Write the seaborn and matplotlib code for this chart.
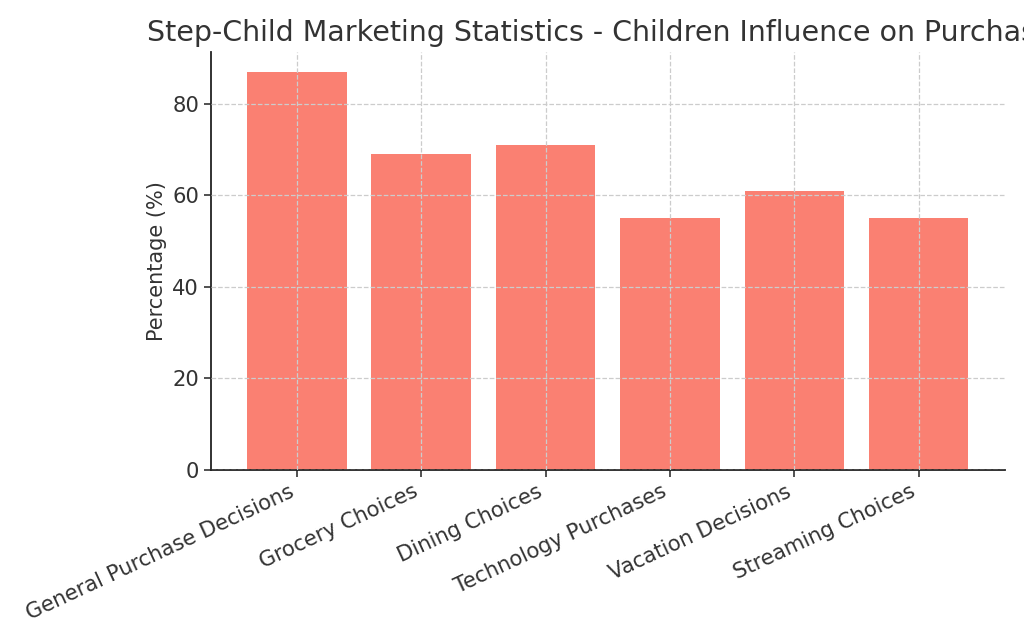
import matplotlib
matplotlib.use("Agg")
import matplotlib.pyplot as plt
import seaborn as sns
import pandas as pd

categories = ["General Purchase Decisions", "Grocery Choices", "Dining Choices",
              "Technology Purchases", "Vacation Decisions", "Streaming Choices"]
values = [87, 69, 71, 55, 61, 55]
title = "Step-Child Marketing Statistics - Children Influence on Purchases"
ylabel = "Percentage (%)"

sns.set_style("white")
plt.rcParams['font.family'] = ['DejaVu Sans']
text_color = "#333333"
plt.rcParams.update({
    "text.color": text_color,
    "axes.labelcolor": text_color,
    "xtick.color": text_color,
    "ytick.color": text_color,
    "axes.edgecolor": text_color,
})

df = pd.DataFrame({"Category": categories, "Percentage": values})

fig = plt.figure(figsize=(10.24, 6.4), dpi=100)
ax = fig.add_axes([0.206, 0.266, 0.775, 0.653])

sns.barplot(data=df, x="Category", y="Percentage", color="#FA8072",
            saturation=1, width=0.8, ax=ax, edgecolor="none")
ax.set_xlim(-0.69, 5.69)
ax.set_ylim(0, 91.35)

ax.set_axisbelow(False)
ax.grid(True, linestyle="--", color="#cccccc", linewidth=0.9)

for s in ["top", "right"]:
    ax.spines[s].set_visible(False)
for s in ["left", "bottom"]:
    ax.spines[s].set_linewidth(1.3)
    ax.spines[s].set_color("#222222")

ax.tick_params(axis="both", which="major", labelsize=15.2, length=5, width=1.1,
               direction="out", bottom=True, left=True, color="#222222")
ax.set_yticks([0, 20, 40, 60, 80])
plt.setp(ax.get_xticklabels(), rotation=25, ha="right", rotation_mode="default")

ax.set_xlabel("")
ax.set_ylabel(ylabel, fontsize=15)
ax.set_title(title, fontsize=20.5, pad=8)

fig.savefig("out.png", dpi=100)
